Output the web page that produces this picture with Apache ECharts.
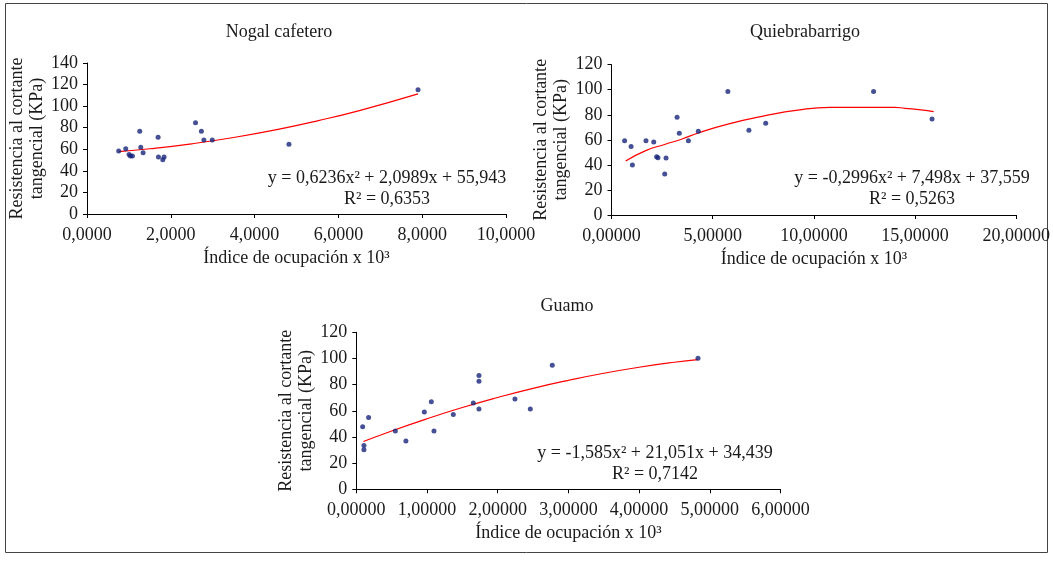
<!DOCTYPE html>
<html>
<head>
<meta charset="utf-8">
<script src="https://cdn.jsdelivr.net/npm/echarts@6/dist/echarts.min.js"></script>
<style>
html,body{margin:0;padding:0;background:#fff;}
#c{width:1053px;height:563px;}
</style>
</head>
<body>
<div id="c"></div>
<script>
// ---- Data ----
const titles = ['Nogal cafetero', 'Quiebrabarrigo', 'Guamo'];
const yAxisName = 'Resistencia al cortante\ntangencial (KPa)';
const xAxisName = 'Índice de ocupación x 10³';

const nogalX = [0.757, 0.925, 1.004, 1.036, 1.084, 1.259, 1.283, 1.339, 1.697, 1.705, 1.809, 1.84, 2.59, 2.73, 2.79, 2.99, 4.82, 7.90];
const nogalY = [58.3, 60.4, 55.2, 53.7, 53.7, 76.7, 62.0, 56.7, 71.2, 52.8, 50.3, 52.8, 84.7, 76.7, 68.7, 68.7, 64.7, 115.3];
const nogalTrendX = [0.76, 1.5, 2.5, 3.5, 4.5, 5.5, 6.5, 7.9];
const nogalTrendY = [57.9, 60.5, 65.1, 70.9, 78.0, 86.4, 95.9, 111.4];
const nogalEq = ['y = 0,6236x² + 2,0989x + 55,943', 'R² = 0,6353'];

const quieX = [0.648, 0.968, 1.032, 1.704, 2.087, 2.231, 2.295, 2.63, 2.695, 3.24, 3.35, 3.80, 4.29, 5.75, 6.79, 7.62, 12.95, 15.84];
const quieY = [59.3, 54.6, 39.9, 59.3, 58.3, 46.6, 45.8, 32.7, 45.5, 78.0, 65.2, 59.3, 66.8, 98.7, 67.6, 73.2, 98.7, 76.6];
const quieTrendX = [0.70, 1.69, 2.66, 3.46, 4.29, 5.75, 7.6, 9.2, 10.8, 14.0, 14.5, 15.3, 15.92];
const quieTrendY = [43.1, 51.4, 56.5, 60.5, 65.5, 72.6, 79.3, 83.8, 86.0, 86.0, 85.2, 84.0, 82.5];
const quieEq = ['y = -0,2996x² + 7,498x + 37,559', 'R² = 0,5263'];

const guamoX = [0.090, 0.108, 0.108, 0.174, 0.552, 0.702, 0.962, 1.061, 1.099, 1.372, 1.655, 1.735, 1.735, 1.735, 2.244, 2.461, 2.772, 4.833];
const guamoY = [47.9, 33.4, 30.3, 54.8, 44.6, 36.9, 59.1, 67.0, 44.6, 57.1, 66.0, 86.9, 82.5, 61.4, 69.0, 61.4, 94.8, 100.1];
const guamoTrendX = [0.1, 0.5, 1, 1.5, 2, 2.5, 3, 3.5, 4, 4.5, 4.83];
const guamoTrendY = [36.5, 44.6, 53.9, 62.5, 70.2, 77.2, 83.3, 88.7, 93.3, 97.1, 99.1];
const guamoEq = ['y = -1,585x² + 21,051x + 34,439', 'R² = 0,7142'];

// ---- Chart ----
const FONT = '"Liberation Serif", "Times New Roman", serif';
const TXT = '#1a1a1a';
const zip = (a, b) => a.map((v, i) => [v, b[i]]);

const grids = [
  {left: 87, top: 63, width: 419, height: 151},
  {left: 611.5, top: 64.7, width: 417, height: 150.3},
  {left: 356.3, top: 332.3, width: 424.2, height: 157}
];
const xCfg = [
  {max: 10, interval: 2, dec: 4},
  {max: 20, interval: 5, dec: 5},
  {max: 6, interval: 1, dec: 5}
];
const yCfg = [{max: 140}, {max: 120}, {max: 120}];

const axisCommon = {
  axisLine: {show: true, lineStyle: {color: '#000', width: 1}},
  axisTick: {show: true, inside: false, length: 4, lineStyle: {color: '#000'}},
  splitLine: {show: false}
};

const xAxes = xCfg.map((c, i) => Object.assign({}, axisCommon, {
  type: 'value', gridIndex: i, min: 0, max: c.max, interval: c.interval,
  name: xAxisName, nameLocation: 'middle', nameGap: 35,
  nameTextStyle: {fontFamily: FONT, fontSize: 18, color: TXT},
  axisLabel: {fontFamily: FONT, fontSize: 18, color: TXT, margin: 12,
    formatter: v => v.toFixed(c.dec).replace('.', ',')}
}));
const yAxes = yCfg.map((c, i) => Object.assign({}, axisCommon, {
  type: 'value', gridIndex: i, min: 0, max: c.max, interval: 20,
  name: yAxisName, nameLocation: 'middle', nameGap: 37, nameRotate: 90,
  nameTextStyle: {fontFamily: FONT, fontSize: 18, color: TXT, lineHeight: 20, align: 'center'},
  axisLabel: {fontFamily: FONT, fontSize: 18, color: TXT, margin: 9}
}));

const sets = [
  [nogalX, nogalY, nogalTrendX, nogalTrendY],
  [quieX, quieY, quieTrendX, quieTrendY],
  [guamoX, guamoY, guamoTrendX, guamoTrendY]
];
const series = [];
sets.forEach((s, i) => {
  series.push({
    type: 'line', xAxisIndex: i, yAxisIndex: i, data: zip(s[2], s[3]),
    smooth: true, showSymbol: false, symbol: 'none',
    lineStyle: {color: '#ff0000', width: 1.2}, z: 2, silent: true
  });
  series.push({
    type: 'scatter', xAxisIndex: i, yAxisIndex: i, data: zip(s[0], s[1]),
    symbol: 'circle', symbolSize: 5, itemStyle: {color: '#17247a'}, z: 3
  });
});

const titlePos = [[274, 18], [800, 18], [562, 292]];
const eqs = [nogalEq, quieEq, guamoEq];
const eqPos = [[387, 178], [912, 178], [655, 453]];

const graphic = [{
  type: 'rect', shape: {x: 5.5, y: 3.5, width: 1042, height: 549},
  style: {fill: 'none', stroke: '#444', lineWidth: 1}, silent: true
}];
eqs.forEach((e, i) => {
  e.forEach((line, j) => {
    graphic.push({
      type: 'text', x: eqPos[i][0], y: eqPos[i][1] + j * 21,
      style: {text: line, font: '18px ' + FONT, fill: TXT, textAlign: 'center', textVerticalAlign: 'middle'},
      silent: true
    });
  });
});

const chart = echarts.init(document.getElementById('c'), null, {renderer: 'canvas'});
chart.setOption({
  backgroundColor: '#fff',
  animation: false,
  title: titles.map((t, i) => ({
    text: t, left: titlePos[i][0], top: titlePos[i][1], textAlign: 'center',
    textStyle: {fontFamily: FONT, fontSize: 18, fontWeight: 'normal', color: TXT}
  })),
  grid: grids,
  xAxis: xAxes,
  yAxis: yAxes,
  series: series,
  graphic: graphic
});
</script>
</body>
</html>
